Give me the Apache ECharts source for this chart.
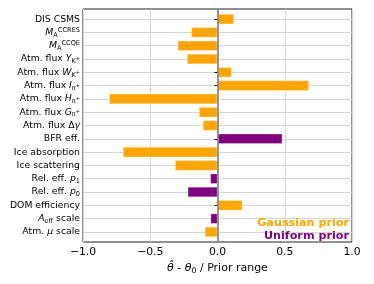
<!DOCTYPE html>
<html><head><meta charset="utf-8">
<script src="https://cdn.jsdelivr.net/npm/echarts@6/dist/echarts.min.js"></script>
<style>html,body{margin:0;padding:0;background:#fff}#c{width:374px;height:284px}</style>
</head><body><div id="c"></div>
<script>
// Parameter labels (rich-text markup for math sub/superscripts)
const categories = [
  '{n|DIS CSMS}',
  '{i|M}{sub|A}{sup|CCRES}',
  '{i|M}{sub|A}{sup|CCQE}',
  '{n|Atm. flux }{i|Y}{sub|K}{subp|+}',
  '{n|Atm. flux }{i|W}{sub|K}{subp|+}',
  '{n|Atm. flux }{i|I}{sub|π}{subp|+}',
  '{n|Atm. flux }{i|H}{sub|π}{subp|+}',
  '{n|Atm. flux }{i|G}{sub|π}{subp|+}',
  '{n|Atm. flux Δ}{i|γ}',
  '{n|BFR eff.}',
  '{n|Ice absorption}',
  '{n|Ice scattering}',
  '{n|Rel. eff. }{i|p}{sub|1}',
  '{n|Rel. eff. }{i|p}{sub|0}',
  '{n|DOM efficiency}',
  '{i|A}{sub|eff}{n| scale}',
  '{n|Atm. }{i|μ}{n| scale}'
];
const gaussianValues = [0.123, -0.195, -0.296, -0.227, 0.106, 0.68, -0.806, -0.138, -0.109, '-', -0.703, -0.316, '-', '-', 0.185, '-', -0.094];
const uniformValues  = ['-', '-', '-', '-', '-', '-', '-', '-', '-', 0.483, '-', '-', -0.054, -0.222, '-', -0.052, '-'];
const xTicks = [-1, -0.5, 0, 0.5, 1];
const legendNames = ['Gaussian prior', 'Uniform prior'];
const xName = '{it|θ\u0302}{n| - }{it|θ}{sub|0}{n| / Prior range}';

const FONT = 'DejaVu Sans';
const ORANGE = '#FFA500', PURPLE = '#800080';
const chart = echarts.init(document.getElementById('c'), null, {renderer: 'canvas'});
const lblSize = 9.3, subSize = 6.6;
const option = {
  animation: false,
  backgroundColor: '#fff',
  grid: [
    {left: 83, right: 22, top: 9, bottom: 42, show: true, borderColor: '#222', borderWidth: 1, backgroundColor: 'transparent'},
    {left: 83, right: 22, top: 12.45, bottom: 45.45}
  ],
  xAxis: [
    {
      gridIndex: 0, type: 'value', min: xTicks[0], max: xTicks[xTicks.length - 1], interval: 0.5,
      axisLine: {show: false}, axisTick: {show: false},
      splitLine: {show: true, lineStyle: {color: '#d4d4d4', width: 1}},
      axisLabel: {
        margin: 5, fontFamily: FONT, fontSize: 10.8, color: '#000',
        formatter: v => (v < 0 ? '\u2212' : '') + Math.abs(v).toFixed(1)
      },
      name: xName, nameLocation: 'middle', nameGap: 19,
      nameTextStyle: {
        fontFamily: FONT, fontSize: 11, color: '#000',
        rich: {
          n: {fontFamily: FONT, fontSize: 11, color: '#000', lineHeight: 14},
          it: {fontFamily: FONT, fontSize: 11, fontStyle: 'italic', color: '#000', lineHeight: 14},
          sub: {fontFamily: FONT, fontSize: 7.7, color: '#000', verticalAlign: 'bottom'}
        }
      }
    },
    {gridIndex: 1, type: 'value', min: -1, max: 1, show: false}
  ],
  yAxis: [
    {gridIndex: 0, type: 'value', min: 0, max: 1, show: false},
    {
      gridIndex: 1, type: 'category', inverse: true, data: categories,
      axisLine: {show: false},
      axisTick: {show: true, alignWithLabel: true, length: 3, lineStyle: {color: '#000', width: 1}},
      splitLine: {show: true, alignWithLabel: true, lineStyle: {color: '#d4d4d4', width: 1}},
      axisLabel: {
        interval: 0, margin: 3, fontFamily: FONT, fontSize: lblSize, color: '#000',
        rich: {
          n: {fontFamily: FONT, fontSize: lblSize, color: '#000', lineHeight: 12},
          i: {fontFamily: FONT, fontSize: lblSize, fontStyle: 'italic', color: '#000', lineHeight: 12},
          sub: {fontFamily: FONT, fontSize: subSize, color: '#000', verticalAlign: 'bottom'},
          subp: {fontFamily: FONT, fontSize: 5, color: '#000', verticalAlign: 'middle'},
          sup: {fontFamily: FONT, fontSize: subSize, color: '#000', verticalAlign: 'top'}
        }
      }
    }
  ],
  series: [
    {
      name: legendNames[0], type: 'bar', xAxisIndex: 1, yAxisIndex: 1, data: gaussianValues,
      barCategoryGap: '22%', barGap: '-100%',
      itemStyle: {color: ORANGE, borderColor: 'rgba(255,255,255,0.35)', borderWidth: 0.8}, z: 3
    },
    {
      name: legendNames[1], type: 'bar', xAxisIndex: 1, yAxisIndex: 1, data: uniformValues,
      barCategoryGap: '22%', barGap: '-100%',
      itemStyle: {color: PURPLE, borderColor: 'rgba(255,255,255,0.35)', borderWidth: 0.8}, z: 3
    },
    {
      type: 'line', xAxisIndex: 0, yAxisIndex: 0, data: [], z: 5, silent: true,
      markLine: {
        silent: true, symbol: ['none', 'none'], label: {show: false},
        lineStyle: {color: '#8a8a8a', width: 1.8, type: 'solid'},
        data: [{xAxis: 0}]
      }
    }
  ],
  graphic: [
    {type: 'text', right: 25, top: 217.5, z: 10,
     style: {text: legendNames[0], fill: ORANGE, font: 'bold 11.2px "DejaVu Sans"', textAlign: 'right'}},
    {type: 'text', right: 25, top: 231, z: 10,
     style: {text: legendNames[1], fill: PURPLE, font: 'bold 11.2px "DejaVu Sans"', textAlign: 'right'}}
  ]
};
chart.setOption(option);
</script></body></html>
